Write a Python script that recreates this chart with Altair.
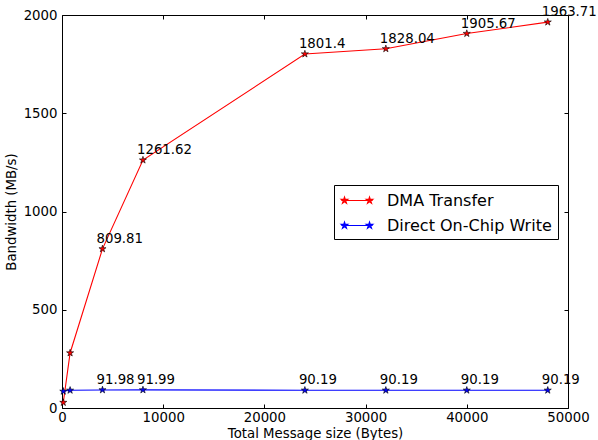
import math
import altair as alt
import pandas as pd

sizes = [128, 800, 4000, 8000, 24000, 32000, 40000, 48000]
dma = [28, 280, 809.81, 1261.62, 1801.4, 1828.04, 1905.67, 1963.71]
direct = [85, 90, 91.98, 91.99, 90.19, 90.19, 90.19, 90.19]
dma_labels = ["", "", "809.81", "1261.62", "1801.4", "1828.04", "1905.67", "1963.71"]
direct_labels = ["", "", "91.98", "91.99", "90.19", "90.19", "90.19", "90.19"]
series = ["DMA Transfer", "Direct On-Chip Write"]
colors = ["red", "blue"]
x_ticks = [0, 10000, 20000, 30000, 40000, 50000]
y_ticks = [0, 500, 1000, 1500, 2000]

rows = []
for name, vals, labs in [(series[0], dma, dma_labels), (series[1], direct, direct_labels)]:
    for s, v, l in zip(sizes, vals, labs):
        rows.append({"series": name, "msg": float(s), "bw": float(v), "label": l})
df = pd.DataFrame(rows)

FONT = "DejaVu Sans"
FS = 13.3


def star(cx=0.0, ro=1.0, ri=0.38):
    pts = []
    for k in range(10):
        r = ro if k % 2 == 0 else ri
        a = math.radians(-90 + 36 * k)
        pts.append((cx + r * math.cos(a), r * math.sin(a)))
    return "M" + "L".join(f"{x:.3f},{y:.3f}" for x, y in pts) + "Z"


star_path = star()
legend_path = "M-1.75,0L1.75,0" + star(-1.39, 0.39, 0.15) + star(1.39, 0.39, 0.15)

xs = alt.Scale(domain=[0, 50000], nice=False, zero=False)
ys = alt.Scale(domain=[0, 2000], nice=False, zero=False)
cs = alt.Scale(domain=series, range=colors)

common_axis = dict(offset=-4, tickSize=4, domain=False, grid=False,
                   tickColor="black", tickWidth=1)

x_main = alt.Axis(orient="bottom", values=x_ticks, format="d", labelPadding=2,
                  title="Total Message size (Bytes)", titlePadding=3,
                  labelFont=FONT, titleFont=FONT, labelFontSize=FS, titleFontSize=FS,
                  labelColor="black", titleColor="black", titleFontWeight="normal",
                  labelFlush=False, labelOverlap=False, **common_axis)
y_main = alt.Axis(orient="left", values=y_ticks, format="d", labelPadding=5,
                  title="Bandwidth (MB/s)", titlePadding=5,
                  labelFont=FONT, titleFont=FONT, labelFontSize=FS, titleFontSize=FS,
                  labelColor="black", titleColor="black", titleFontWeight="normal",
                  labelFlush=False, labelOverlap=False, **common_axis)
x_top = alt.Axis(orient="top", values=x_ticks, labels=False, title=None, **common_axis)
y_right = alt.Axis(orient="right", values=y_ticks, labels=False, title=None, **common_axis)

legend = alt.Legend(orient="none", legendX=272, legendY=170, title=None,
                    strokeColor="black", fillColor="white", padding=5.5,
                    labelFont=FONT, labelFontSize=16, labelColor="black",
                    labelLimit=400,
                    symbolType=legend_path, symbolSize=324, symbolStrokeWidth=1.1,
                    symbolOffset=7.5, labelOffset=20, rowPadding=7)

base = alt.Chart(df)

lines = base.mark_line(strokeWidth=1.1).encode(
    x=alt.X("msg:Q", scale=xs, axis=x_main),
    y=alt.Y("bw:Q", scale=ys, axis=y_main),
    color=alt.Color("series:N", scale=cs, sort=series, legend=legend),
)

points = base.mark_point(shape=star_path, filled=True, size=56, stroke="black",
                         strokeWidth=0.6, opacity=1).encode(
    x=alt.X("msg:Q", scale=xs, axis=x_top),
    y=alt.Y("bw:Q", scale=ys, axis=y_right),
    fill=alt.Fill("series:N", scale=cs, sort=series, legend=None),
)

texts = base.transform_filter("datum.label != ''").mark_text(
    align="left", baseline="alphabetic", dx=-6, dy=-6, font=FONT, fontSize=FS,
    color="black").encode(
    x=alt.X("msg:Q", scale=xs, axis=None),
    y=alt.Y("bw:Q", scale=ys, axis=None),
    text="label:N",
)

chart = alt.layer(lines, points, texts).resolve_axis(
    x="independent", y="independent"
).properties(
    width=506, height=393,
    autosize=alt.AutoSizeParams(type="none"),
    padding={"left": 62, "top": 15, "right": 30, "bottom": 32},
    background="white",
).configure_view(stroke="black", strokeWidth=1)

chart.save("out.html", embed_options={"renderer": "svg", "actions": False})
